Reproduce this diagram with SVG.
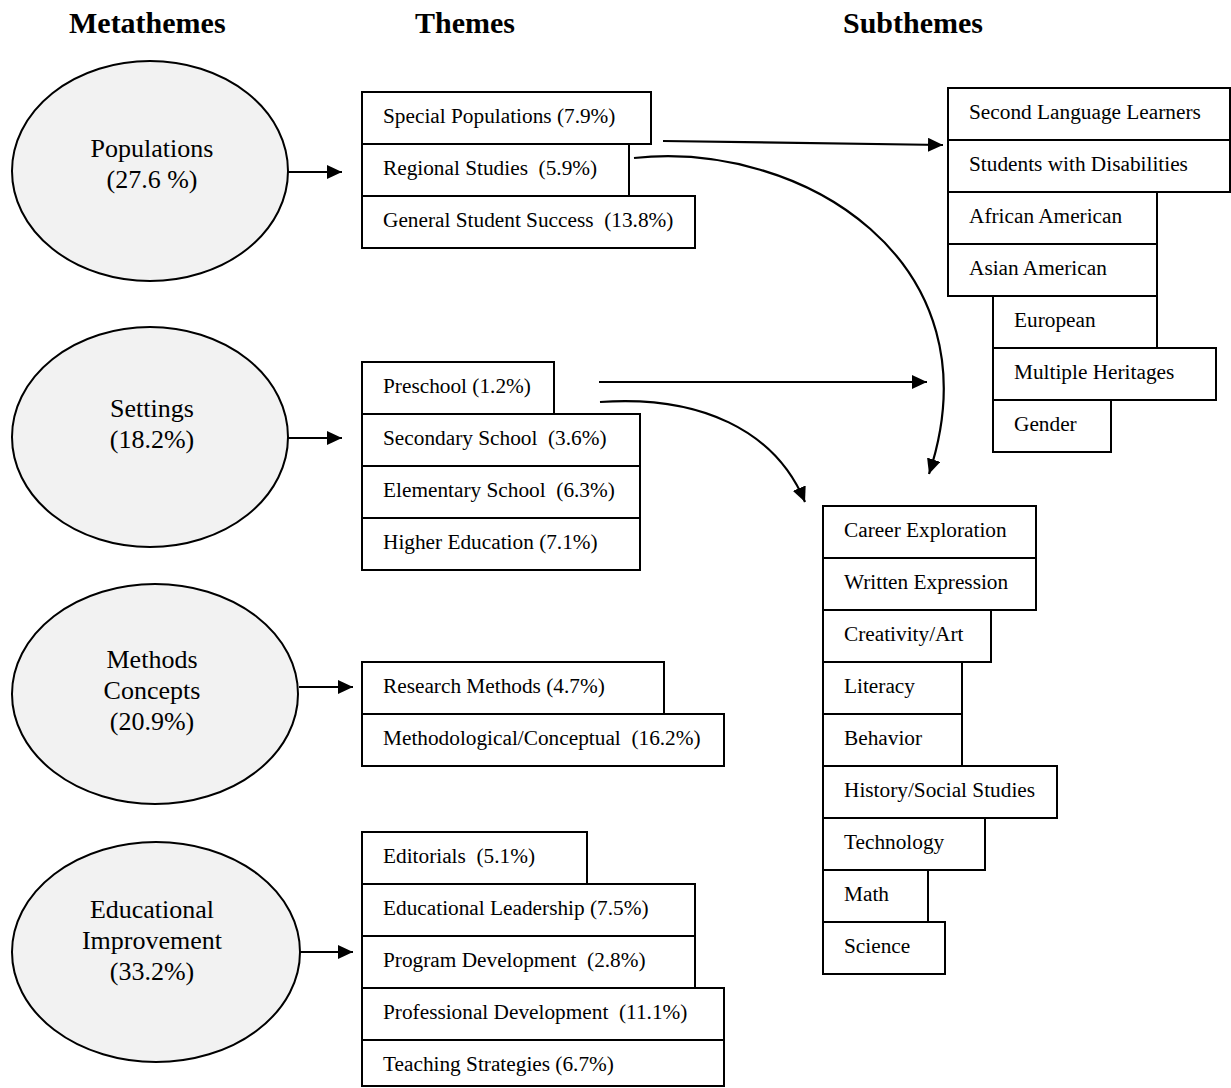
<svg xmlns="http://www.w3.org/2000/svg" width="1231" height="1088" viewBox="0 0 1231 1088">
<style>
text { font-family: "Liberation Serif", "Times New Roman", serif; fill: #000; white-space: pre; }
.h { font-size: 30px; font-weight: bold; }
.e { font-size: 26px; text-anchor: middle; }
.t { font-size: 21.3px; }
.box { fill: #fff; stroke: #000; stroke-width: 2; }
.ell { fill: #f2f2f2; stroke: #000; stroke-width: 2; }
.c { fill: none; stroke: #000; stroke-width: 2.2; marker-end: url(#ah); }
</style>
<defs>
<marker id="ah" markerUnits="userSpaceOnUse" markerWidth="16" markerHeight="14" refX="15" refY="7" orient="auto">
<path d="M0,0 L15,7 L0,14 z" fill="#000"/>
</marker>
</defs>
<rect width="1231" height="1088" fill="#fff"/>
<g id="headings">
<text class="h" x="69" y="33">Metathemes</text>
<text class="h" x="415" y="33">Themes</text>
<text class="h" x="843" y="33">Subthemes</text>
</g>
<g id="meta-populations">
<ellipse class="ell" cx="150" cy="171" rx="138" ry="110"/>
<text class="e" x="152" y="157">Populations</text>
<text class="e" x="152" y="188">(27.6 %)</text>
</g>
<g id="meta-settings">
<ellipse class="ell" cx="150" cy="437" rx="138" ry="110"/>
<text class="e" x="152" y="417">Settings</text>
<text class="e" x="152" y="448">(18.2%)</text>
</g>
<g id="meta-methods">
<ellipse class="ell" cx="155" cy="694" rx="143" ry="110"/>
<text class="e" x="152" y="668">Methods</text>
<text class="e" x="152" y="699">Concepts</text>
<text class="e" x="152" y="730">(20.9%)</text>
</g>
<g id="meta-improvement">
<ellipse class="ell" cx="156" cy="952" rx="144" ry="110"/>
<text class="e" x="152" y="918">Educational</text>
<text class="e" x="152" y="949">Improvement</text>
<text class="e" x="152" y="980">(33.2%)</text>
</g>
<g id="themes-populations">
<rect class="box" x="362" y="92" width="289" height="52"/><text class="t" x="383" y="123">Special Populations (7.9%)</text>
<rect class="box" x="362" y="144" width="267" height="52"/><text class="t" x="383" y="175">Regional Studies  (5.9%)</text>
<rect class="box" x="362" y="196" width="333" height="52"/><text class="t" x="383" y="227">General Student Success  (13.8%)</text>
</g>
<g id="themes-settings">
<rect class="box" x="362" y="362" width="192" height="52"/><text class="t" x="383" y="393">Preschool (1.2%)</text>
<rect class="box" x="362" y="414" width="278" height="52"/><text class="t" x="383" y="445">Secondary School  (3.6%)</text>
<rect class="box" x="362" y="466" width="278" height="52"/><text class="t" x="383" y="497">Elementary School  (6.3%)</text>
<rect class="box" x="362" y="518" width="278" height="52"/><text class="t" x="383" y="549">Higher Education (7.1%)</text>
</g>
<g id="themes-methods">
<rect class="box" x="362" y="662" width="302" height="52"/><text class="t" x="383" y="693">Research Methods (4.7%)</text>
<rect class="box" x="362" y="714" width="362" height="52"/><text class="t" x="383" y="745">Methodological/Conceptual  (16.2%)</text>
</g>
<g id="themes-improvement">
<rect class="box" x="362" y="832" width="225" height="52"/><text class="t" x="383" y="863">Editorials  (5.1%)</text>
<rect class="box" x="362" y="884" width="333" height="52"/><text class="t" x="383" y="915">Educational Leadership (7.5%)</text>
<rect class="box" x="362" y="936" width="333" height="52"/><text class="t" x="383" y="967">Program Development  (2.8%)</text>
<rect class="box" x="362" y="988" width="362" height="52"/><text class="t" x="383" y="1019">Professional Development  (11.1%)</text>
<rect class="box" x="362" y="1040" width="362" height="46"/><text class="t" x="383" y="1071">Teaching Strategies (6.7%)</text>
</g>
<g id="subthemes-populations">
<rect class="box" x="948" y="88" width="282" height="52"/><text class="t" x="969" y="119">Second Language Learners</text>
<rect class="box" x="948" y="140" width="282" height="52"/><text class="t" x="969" y="171">Students with Disabilities</text>
<rect class="box" x="948" y="192" width="209" height="52"/><text class="t" x="969" y="223">African American</text>
<rect class="box" x="948" y="244" width="209" height="52"/><text class="t" x="969" y="275">Asian American</text>
<rect class="box" x="993" y="296" width="164" height="52"/><text class="t" x="1014" y="327">European</text>
<rect class="box" x="993" y="348" width="223" height="52"/><text class="t" x="1014" y="379">Multiple Heritages</text>
<rect class="box" x="993" y="400" width="118" height="52"/><text class="t" x="1014" y="431">Gender</text>
</g>
<g id="subthemes-subjects">
<rect class="box" x="823" y="506" width="213" height="52"/><text class="t" x="844" y="537">Career Exploration</text>
<rect class="box" x="823" y="558" width="213" height="52"/><text class="t" x="844" y="589">Written Expression</text>
<rect class="box" x="823" y="610" width="168" height="52"/><text class="t" x="844" y="641">Creativity/Art</text>
<rect class="box" x="823" y="662" width="139" height="52"/><text class="t" x="844" y="693">Literacy</text>
<rect class="box" x="823" y="714" width="139" height="52"/><text class="t" x="844" y="745">Behavior</text>
<rect class="box" x="823" y="766" width="234" height="52"/><text class="t" x="844" y="797">History/Social Studies</text>
<rect class="box" x="823" y="818" width="162" height="52"/><text class="t" x="844" y="849">Technology</text>
<rect class="box" x="823" y="870" width="105" height="52"/><text class="t" x="844" y="901">Math</text>
<rect class="box" x="823" y="922" width="122" height="52"/><text class="t" x="844" y="953">Science</text>
</g>
<g id="connectors">
<line class="c" x1="288" y1="172" x2="342" y2="172"/>
<line class="c" x1="288" y1="438" x2="342" y2="438"/>
<line class="c" x1="299" y1="687" x2="353" y2="687"/>
<line class="c" x1="300" y1="952" x2="353" y2="952"/>
<path class="c" d="M663,141 L943,145"/>
<path class="c" d="M634,158 C800,140 1000,260 929,474"/>
<line class="c" x1="599" y1="382" x2="927" y2="382"/>
<path class="c" d="M600,402 C700,395 775,430 805,502"/>
</g>
</svg>
